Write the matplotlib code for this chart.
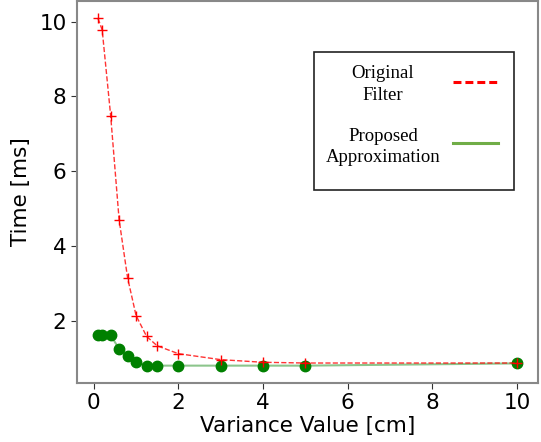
import matplotlib
matplotlib.use("Agg")
import matplotlib.pyplot as plt
from matplotlib.lines import Line2D

variance = [0.1, 0.2, 0.4, 0.6, 0.8, 1.0, 1.25, 1.5, 2, 3, 4, 5, 10]
original_filter = [10.09, 9.78, 7.49, 4.70, 3.15, 2.14, 1.58, 1.33, 1.12, 0.96, 0.89, 0.87, 0.87]
proposed_approx = [1.61, 1.61, 1.61, 1.25, 1.05, 0.91, 0.80, 0.80, 0.80, 0.80, 0.80, 0.80, 0.86]

fig = plt.figure(figsize=(5.41, 4.42), dpi=100)
ax = fig.add_axes([77/541, 1 - 383/442, (538-77)/541, (383-1)/442])

ax.plot(variance, proposed_approx, '-', color='green', alpha=0.45, lw=1.5)
ax.plot(variance, proposed_approx, 'o', color='green', ms=7.5, ls='none')
ax.plot(variance, original_filter, '--', color='red', alpha=0.8, lw=1.0)
ax.plot(variance, original_filter, '+', color='red', ms=7, mew=1.0, ls='none')

ax.set_xticks([0, 2, 4, 6, 8, 10])
ax.set_yticks([2, 4, 6, 8, 10])
ax.tick_params(labelsize=15.5, length=4, color='#333333')
ax.set_xlabel('Variance Value [cm]', fontsize=15.5, labelpad=2)
ax.set_ylabel('Time [ms]', fontsize=15.5, labelpad=6)
for s in ax.spines.values():
    s.set_color('#888888')
    s.set_linewidth(1.5)

# custom legend box (figure pixel coordinates)
W, H = 541, 442
def fx(px):
    return px / W
def fy(py):
    return 1 - py / H

box = plt.Rectangle((fx(313.5), fy(189.5)), (513.5-313.5)/W, (189.5-51.5)/H,
                    transform=fig.transFigure, fill=True, facecolor='white',
                    edgecolor='#222222', lw=1.2, zorder=5)
fig.patches.append(box)
serif = dict(family='Liberation Serif', fontsize=13.5, ha='center', va='center', zorder=6)
fig.text(fx(383), fy(73), 'Original', **serif)
fig.text(fx(383), fy(95), 'Filter', **serif)
fig.text(fx(383), fy(136.5), 'Proposed', **serif)
fig.text(fx(383), fy(158), 'Approximation', **serif)
fig.lines.append(Line2D([fx(453), fx(498)], [fy(82.3), fy(82.3)], transform=fig.transFigure,
                        color='red', lw=2.2, ls=(0, (2.6, 1.3)), zorder=6))
fig.lines.append(Line2D([fx(453), fx(498)], [fy(143.3), fy(143.3)], transform=fig.transFigure,
                        color='#70AD47', lw=2.2, zorder=6))

fig.savefig('out.png', dpi=100)
